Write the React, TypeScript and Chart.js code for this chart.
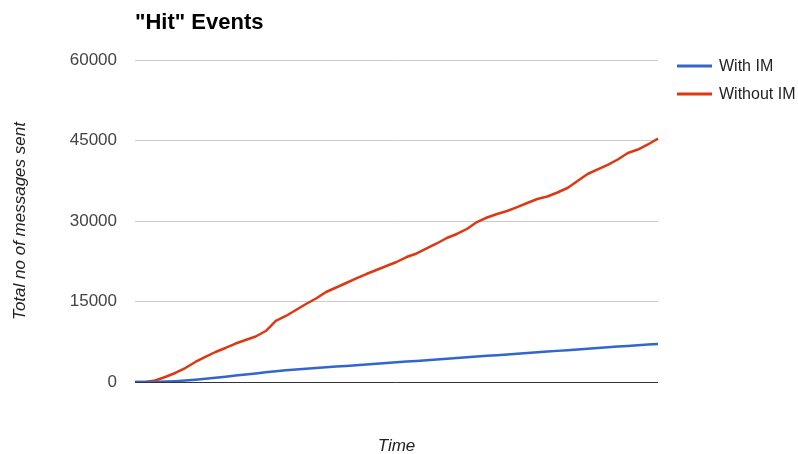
import React, { useEffect, useRef } from "react";
import { Chart, registerables } from "chart.js";

Chart.register(...registerables);

const timeLabels = [
  "1", "2", "3", "4", "5", "6", "7", "8", "9", "10",
  "11", "12", "13", "14", "15", "16", "17", "18", "19", "20",
  "21", "22", "23", "24", "25", "26", "27", "28", "29", "30",
  "31", "32", "33", "34", "35", "36", "37", "38", "39", "40",
  "41", "42", "43", "44", "45", "46", "47", "48", "49", "50",
  "51", "52", "53",
];

const withIM = [
  0, 0, 20, 70, 160, 280, 430, 600, 790, 990,
  1190, 1400, 1600, 1800, 1990, 2170, 2320, 2470, 2600, 2730,
  2870, 3000, 3130, 3270, 3400, 3530, 3670, 3800, 3930, 4070,
  4200, 4330, 4470, 4600, 4730, 4870, 5000, 5130, 5270, 5400,
  5530, 5670, 5800, 5930, 6070, 6200, 6330, 6470, 6600, 6730,
  6870, 6980, 7080,
];

const withoutIM = [
  0, 0, 280, 930, 1680, 2600, 3730, 4660, 5590, 6340,
  7170, 7830, 8480, 9500, 11370, 12300, 13420, 14530, 15560, 16770,
  17610, 18450, 19290, 20120, 20870, 21620, 22360, 23290, 23950, 24880,
  25810, 26830, 27580, 28510, 29810, 30650, 31300, 31860, 32600, 33350,
  34100, 34560, 35310, 36150, 37450, 38760, 39600, 40440, 41460, 42670,
  43320, 44260, 45370,
];

const yTicks = [0, 15000, 30000, 45000, 60000];

const seriesNames = ["With IM", "Without IM"];
const seriesColors = ["#3366cc", "#dc3912"];

const chartTitle = '"Hit" Events';
const yTitle = "Total no of messages sent";
const xTitle = "Time";

const FONT = "'Liberation Sans', Arial, sans-serif";

const textPlugin = {
  id: "textPlugin",
  afterDraw(chart: any) {
    const ctx = chart.ctx;
    const area = chart.chartArea;
    ctx.save();
    ctx.fillStyle = "#000";
    ctx.font = `bold 22px ${FONT}`;
    ctx.textAlign = "left";
    ctx.textBaseline = "alphabetic";
    ctx.fillText(chartTitle, area.left, 29);

    ctx.save();
    ctx.translate(20, (area.top + area.bottom) / 2);
    ctx.rotate(-Math.PI / 2);
    ctx.fillStyle = "#222";
    ctx.font = `italic 17px ${FONT}`;
    ctx.textAlign = "center";
    ctx.textBaseline = "middle";
    ctx.fillText(yTitle, 0, 0);
    ctx.restore();

    ctx.fillStyle = "#222";
    ctx.font = `italic 17px ${FONT}`;
    ctx.textAlign = "center";
    ctx.textBaseline = "middle";
    ctx.fillText(xTitle, (area.left + area.right) / 2, 446);

    const legendY = [66, 94];
    seriesNames.forEach((name, i) => {
      ctx.strokeStyle = seriesColors[i];
      ctx.lineWidth = 3;
      ctx.beginPath();
      ctx.moveTo(677, legendY[i]);
      ctx.lineTo(712, legendY[i]);
      ctx.stroke();
      ctx.fillStyle = "#222";
      ctx.font = `16px ${FONT}`;
      ctx.textAlign = "left";
      ctx.textBaseline = "middle";
      ctx.fillText(name, 719, legendY[i] + 1);
    });
    ctx.restore();
  },
};

export default function App() {
  const canvasRef = useRef<HTMLCanvasElement | null>(null);

  useEffect(() => {
    document.body.style.margin = "0";
    const canvas = canvasRef.current;
    if (!canvas) return;
    const chart = new Chart(canvas, {
      type: "line",
      data: {
        labels: timeLabels,
        datasets: [
          {
            label: seriesNames[0],
            data: withIM,
            borderColor: seriesColors[0],
            backgroundColor: seriesColors[0],
            borderWidth: 2.5,
            pointRadius: 0,
            tension: 0,
            borderJoinStyle: "round",
          },
          {
            label: seriesNames[1],
            data: withoutIM,
            borderColor: seriesColors[1],
            backgroundColor: seriesColors[1],
            borderWidth: 2.5,
            pointRadius: 0,
            tension: 0,
            borderJoinStyle: "round",
          },
        ],
      },
      options: {
        animation: false,
        responsive: true,
        maintainAspectRatio: false,
        layout: { padding: { left: 0, right: 140, top: 60, bottom: 0 } },
        plugins: {
          legend: { display: false },
          title: { display: false },
          tooltip: { enabled: false },
        },
        scales: {
          x: {
            type: "category",
            ticks: { display: false },
            grid: { display: false },
            border: { display: false },
            afterFit(scale: any) {
              scale.height = 72;
            },
          },
          y: {
            min: 0,
            max: 60000,
            afterBuildTicks(scale: any) {
              scale.ticks = yTicks.map((v) => ({ value: v }));
            },
            ticks: {
              padding: 18,
              color: "#444",
              font: { family: FONT, size: 17 },
              callback: (v: any) => String(v),
            },
            grid: {
              drawTicks: false,
              color: (c: any) => (c.tick && c.tick.value === 0 ? "#333" : "#cccccc"),
              lineWidth: 1,
            },
            border: { display: false },
            afterFit(scale: any) {
              scale.width = 135;
            },
          },
        },
      },
      plugins: [textPlugin],
    });
    return () => chart.destroy();
  }, []);

  return (
    <div style={{ width: 798, height: 454, position: "relative", background: "#fff" }}>
      <canvas ref={canvasRef} />
    </div>
  );
}
